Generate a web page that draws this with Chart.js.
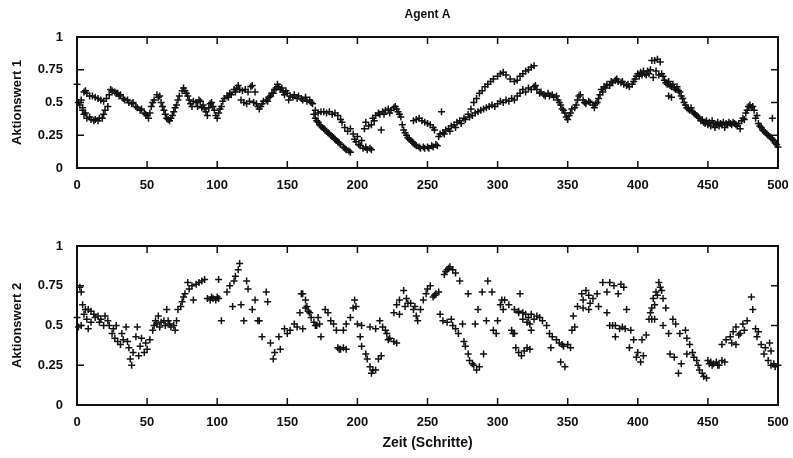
<!DOCTYPE html>
<html>
<head>
<meta charset="utf-8">
<script src="https://cdn.jsdelivr.net/npm/chart.js@4/dist/chart.umd.min.js"></script>
<style>
  html, body { margin: 0; padding: 0; background: #fff; }
  #wrap { position: relative; width: 793px; height: 458px; }
  canvas { position: absolute; left: 0; }
</style>
</head>
<body>
<div id="wrap">
  <canvas id="oben" width="793" height="200" style="top:0"></canvas>
  <canvas id="unten" width="793" height="258" style="top:200px"></canvas>
</div>
<script>
// Agent A - Aktionswerte über die Zeit
const titel = 'Agent A';
const xTitel = 'Zeit (Schritte)';
const yTitel1 = 'Aktionswert 1';
const yTitel2 = 'Aktionswert 2';
const xTicks = [0, 50, 100, 150, 200, 250, 300, 350, 400, 450, 500];
const yTicks = [0, 0.25, 0.5, 0.75, 1];

// [Schritt, Wert]
const wert1 = [
  [0,0.64],[1,0.5],[2,0.48],[3,0.52],[4,0.46],
  [5,0.58],[6,0.59],[7,0.57],[9,0.55],[11,0.55],[13,0.54],[15,0.53],[17,0.52],[19,0.51],[21,0.53],[23,0.56],[24,0.6],[25,0.59],[27,0.58],[29,0.57],
  [4,0.44],[5,0.41],[6,0.42],[7,0.38],[9,0.39],[10,0.37],[12,0.36],[13,0.37],[15,0.36],[16,0.38],[18,0.38],[19,0.41],[20,0.44],[22,0.47],
  [28,0.57],[30,0.55],[31,0.56],[33,0.53],[34,0.52],[36,0.52],[37,0.5],[39,0.49],[40,0.5],[42,0.47],[43,0.46],[45,0.44],[46,0.45],[48,0.42],[49,0.41],[50,0.4],[51,0.38],[52,0.42],
  [53,0.47],[54,0.5],[55,0.52],[57,0.56],[58,0.54],[59,0.55],[60,0.5],[61,0.47],
  [62,0.44],[63,0.41],[64,0.38],[65,0.37],[66,0.36],[67,0.38],[68,0.4],[69,0.43],[70,0.46],[71,0.48],
  [72,0.52],[73,0.55],[75,0.59],[76,0.61],[77,0.59],[78,0.57],[79,0.55],[80,0.52],
  [81,0.49],[82,0.47],[83,0.51],[85,0.5],[86,0.47],[87,0.52],[88,0.51],[89,0.46],[90,0.48],[91,0.45],[92,0.43],[93,0.4],[94,0.46],[95,0.49],[96,0.5],[97,0.47],[98,0.44],[99,0.4],[100,0.38],
  [101,0.42],[102,0.45],[103,0.47],[104,0.51],[105,0.53],[107,0.55],[108,0.54],[109,0.57],[110,0.56],[112,0.6],[113,0.58],[114,0.61],[115,0.63],[116,0.6],
  [118,0.59],[120,0.6],[122,0.58],[124,0.62],[125,0.63],[127,0.58],
  [117,0.52],[119,0.5],[121,0.49],[123,0.51],[126,0.5],[128,0.49],[129,0.47],[130,0.45],[131,0.47],
  [132,0.49],[133,0.51],[135,0.52],[136,0.51],[137,0.54],[138,0.55],[139,0.57],[140,0.57],[141,0.6],[142,0.61],[143,0.64],[144,0.62],[145,0.6],
  [146,0.61],[147,0.58],[148,0.56],[149,0.59],[150,0.57],[151,0.52],[152,0.55],[154,0.54],[155,0.56],[157,0.53],[158,0.55],[160,0.53],[161,0.52],[163,0.54],[164,0.51],[166,0.52],[167,0.5],[168,0.49],
  [169,0.41],[170,0.38],[171,0.36],[172,0.35],[173,0.33],[174,0.32],[175,0.31],[176,0.3],[177,0.29],[178,0.28],[179,0.27],[180,0.26],[181,0.25],[182,0.24],[183,0.23],[184,0.22],[185,0.21],[186,0.2],[187,0.19],[188,0.18],[190,0.16],[191,0.15],[192,0.14],[194,0.13],[195,0.12],
  [170,0.44],[172,0.42],[174,0.43],[176,0.43],[178,0.42],[180,0.43],[182,0.41],[184,0.42],[186,0.4],[188,0.37],[189,0.35],
  [191,0.31],[193,0.28],[195,0.3],[197,0.26],[198,0.22],[199,0.2],[200,0.24],[201,0.18],[202,0.17],[203,0.21],[204,0.15],[206,0.16],[207,0.14],[209,0.15],[210,0.14],
  [205,0.3],[206,0.35],[208,0.32],[210,0.33],[211,0.38],[212,0.36],[213,0.4],[215,0.42],[216,0.41],[217,0.29],[218,0.43],[219,0.41],[220,0.44],[222,0.45],[223,0.42],[224,0.44],[226,0.46],[227,0.47],[228,0.45],[229,0.43],[230,0.41],[231,0.39],
  [232,0.33],[233,0.29],[234,0.27],[235,0.25],[236,0.23],[237,0.22],[238,0.21],[239,0.2],[240,0.19],[241,0.18],[242,0.17],[244,0.16],[245,0.15],[247,0.16],[248,0.15],[250,0.16],[251,0.15],[253,0.17],[254,0.16],[256,0.18],[257,0.17],
  [240,0.36],[242,0.37],[244,0.38],[246,0.36],[248,0.35],[250,0.34],[252,0.33],[254,0.31],[255,0.29],[260,0.43],
  [258,0.24],[259,0.26],[261,0.27],[262,0.26],[263,0.29],[265,0.3],[266,0.28],[267,0.32],[269,0.33],[270,0.31],[271,0.35],[273,0.36],[274,0.34],[276,0.38],[277,0.37],[279,0.41],[280,0.39],
  [281,0.45],[283,0.5],[285,0.53],[287,0.57],[289,0.59],[291,0.62],[293,0.64],[295,0.66],[297,0.68],[300,0.7],[302,0.72],[304,0.73],[306,0.71],[309,0.68],[312,0.66],[314,0.67],[316,0.7],[318,0.72],[320,0.74],[322,0.75],[324,0.77],[326,0.78],
  [282,0.4],[284,0.42],[286,0.43],[288,0.44],[290,0.45],[292,0.46],[294,0.47],[296,0.48],[298,0.47],[300,0.49],[302,0.51],[304,0.5],[306,0.52],[308,0.51],[310,0.53],[312,0.52],[314,0.55],[316,0.57],[318,0.6],[320,0.58],[322,0.61],[324,0.6],[326,0.62],
  [327,0.63],[328,0.6],[330,0.57],[331,0.58],[333,0.56],[334,0.55],[336,0.57],[337,0.55],[339,0.56],[340,0.54],[342,0.55],[343,0.52],[344,0.5],[345,0.48],[346,0.45],[347,0.44],[348,0.42],[349,0.39],[350,0.37],[351,0.4],
  [352,0.42],[353,0.45],[355,0.46],[356,0.48],[357,0.52],[358,0.55],[359,0.56],[361,0.52],[362,0.5],[363,0.49],[365,0.51],[366,0.5],[368,0.48],[369,0.46],[370,0.49],[371,0.5],[372,0.53],[373,0.56],
  [374,0.6],[375,0.58],[376,0.62],[377,0.61],[378,0.64],[380,0.63],[381,0.66],[382,0.65],[384,0.67],[385,0.68],[386,0.66],[388,0.65],[389,0.66],[390,0.64],[392,0.63],[393,0.64],[394,0.62],[396,0.64],[397,0.66],[398,0.68],[399,0.7],
  [400,0.72],[401,0.7],[402,0.73],[403,0.71],[404,0.74],[405,0.72],[406,0.71],[407,0.74],[408,0.72],[409,0.75],[410,0.82],[411,0.69],[412,0.82],[413,0.74],[414,0.83],[415,0.71],[416,0.81],[417,0.72],[418,0.7],
  [419,0.67],[420,0.65],[421,0.64],[422,0.66],[423,0.63],[424,0.62],[425,0.64],[426,0.61],[427,0.6],[428,0.62],[429,0.59],[430,0.58],[422,0.55],[424,0.54],
  [431,0.55],[432,0.53],[433,0.5],[434,0.48],[435,0.46],[436,0.45],[437,0.44],[438,0.46],[439,0.43],[440,0.42],[441,0.41],[442,0.4],[443,0.39],[444,0.38],
  [445,0.36],[446,0.37],[447,0.35],[448,0.34],[449,0.36],[450,0.33],[451,0.35],[452,0.32],[453,0.36],[454,0.34],[455,0.31],[456,0.33],[457,0.35],[458,0.32],[459,0.34],
  [460,0.33],[461,0.35],[462,0.31],[463,0.34],[464,0.33],[465,0.35],[466,0.34],[467,0.33],[468,0.35],[469,0.34],[470,0.33],[471,0.32],[472,0.34],[473,0.3],
  [474,0.36],[475,0.38],[476,0.37],[477,0.42],[478,0.44],[479,0.47],[480,0.48],[481,0.46],[482,0.47],[483,0.44],[484,0.38],[485,0.4],
  [486,0.34],[487,0.32],[488,0.31],[489,0.29],[490,0.28],[491,0.27],[492,0.26],[493,0.25],[494,0.24],[495,0.23],[496,0.22],[497,0.21],[498,0.19],[499,0.18],[500,0.16],[496,0.38]
];

const wert2 = [
  [2,0.74],[3,0.71],[0,0.55],[1,0.49],[3,0.5],[4,0.63],[5,0.57],[6,0.6],[7,0.54],[8,0.6],[8,0.48],[10,0.59],[10,0.52],[12,0.57],[13,0.55],[15,0.56],[16,0.52],[17,0.54],[19,0.5],[20,0.56],[22,0.53],[23,0.5],
  [25,0.45],[26,0.48],[27,0.42],[28,0.5],[29,0.4],[31,0.38],[32,0.45],[33,0.41],[35,0.49],[36,0.4],[37,0.36],[38,0.29],[39,0.25],[40,0.33],[42,0.43],[43,0.49],[44,0.31],[45,0.37],[46,0.42],[48,0.33],[49,0.39],[50,0.35],[52,0.41],
  [54,0.47],[55,0.5],[56,0.53],[57,0.51],[58,0.56],[59,0.49],[60,0.52],[62,0.53],[63,0.5],[64,0.6],[65,0.53],[66,0.51],[67,0.49],[69,0.5],[70,0.47],[71,0.53],
  [72,0.6],[74,0.62],[75,0.65],[76,0.68],[77,0.7],[79,0.77],[80,0.73],[82,0.75],[83,0.66],[85,0.76],[87,0.77],[89,0.78],[91,0.79],
  [93,0.67],[95,0.66],[96,0.68],[97,0.67],[99,0.66],[100,0.68],[101,0.67],[101,0.79],[103,0.53],
  [107,0.71],[109,0.75],[111,0.62],[112,0.78],[113,0.81],[115,0.85],[116,0.89],[117,0.63],[119,0.53],
  [121,0.78],[122,0.73],[125,0.6],[127,0.66],[129,0.53],[130,0.53],[132,0.43],[135,0.71],[136,0.65],
  [138,0.39],[140,0.29],[141,0.33],[144,0.43],[145,0.35],[148,0.48],[150,0.45],[152,0.47],[155,0.51],[157,0.49],
  [159,0.58],[161,0.7],[160,0.7],[163,0.66],[163,0.61],[164,0.62],[161,0.48],[165,0.59],[166,0.58],[167,0.55],[169,0.52],[170,0.5],[171,0.5],[172,0.55],[173,0.51],[174,0.43],
  [177,0.6],[179,0.58],[181,0.53],[183,0.51],[185,0.47],[190,0.47],[192,0.51],
  [186,0.36],[187,0.35],[188,0.35],[190,0.36],[192,0.35],
  [195,0.55],[197,0.61],[198,0.66],[199,0.62],[200,0.51],[203,0.5],
  [202,0.43],[203,0.37],[206,0.32],[207,0.29],[209,0.24],[210,0.2],[211,0.22],[213,0.22],[215,0.29],[217,0.31],[209,0.49],[213,0.48],
  [216,0.53],[218,0.49],[220,0.47],[221,0.45],[222,0.41],[223,0.42],[226,0.4],[228,0.39],
  [226,0.58],[228,0.63],[230,0.66],[230,0.57],[233,0.72],[234,0.62],[235,0.67],[236,0.64],[238,0.64],[240,0.6],[241,0.62],[242,0.56],[243,0.53],
  [245,0.6],[247,0.66],[249,0.7],[250,0.73],[252,0.75],[254,0.68],[255,0.69],[256,0.7],[258,0.71],
  [262,0.82],[263,0.84],[264,0.85],[265,0.86],[266,0.87],[268,0.85],[270,0.83],[273,0.78],[279,0.7],
  [259,0.57],[261,0.53],[264,0.52],[267,0.54],[268,0.5],[270,0.48],[272,0.45],[275,0.51],[276,0.4],[277,0.37],[279,0.32],[280,0.28],[282,0.26],[283,0.25],[285,0.22],[287,0.24],[290,0.32],
  [284,0.51],[286,0.6],[289,0.71],[292,0.53],[293,0.78],[296,0.71],[297,0.47],[299,0.45],[300,0.53],
  [302,0.63],[303,0.66],[304,0.6],[305,0.66],[308,0.63],[310,0.47],[311,0.45],[312,0.45],[315,0.58],[316,0.7],
  [312,0.6],[315,0.59],[318,0.58],[320,0.57],[322,0.55],[324,0.57],[326,0.54],[328,0.56],[330,0.55],[332,0.53],[318,0.54],[321,0.52],[323,0.51],[324,0.47],
  [313,0.36],[315,0.33],[317,0.31],[319,0.34],[321,0.36],[323,0.35],
  [335,0.5],[337,0.45],[338,0.36],[339,0.43],[342,0.41],[344,0.39],[345,0.27],[346,0.38],[347,0.37],[348,0.24],[350,0.38],[352,0.36],
  [353,0.47],[354,0.56],[355,0.49],[357,0.62],[360,0.7],[361,0.66],[361,0.61],[363,0.72],[365,0.69],[365,0.6],[366,0.64],[368,0.67],[371,0.7],[372,0.62],
  [375,0.77],[378,0.71],[380,0.77],[383,0.75],[386,0.7],[388,0.76],[390,0.74],
  [378,0.58],[380,0.5],[382,0.5],[384,0.43],[384,0.5],[387,0.48],[389,0.49],[391,0.48],[392,0.6],[395,0.47],
  [394,0.36],[397,0.41],[399,0.3],[400,0.33],[402,0.27],[403,0.41],[404,0.31],[406,0.44],
  [408,0.54],[409,0.58],[410,0.61],[411,0.67],[412,0.63],[413,0.71],[414,0.69],[415,0.77],[416,0.74],[417,0.72],[418,0.67],[420,0.61],[410,0.54],[412,0.54],
  [418,0.5],[422,0.45],[425,0.54],[427,0.51],[430,0.45],[423,0.32],[426,0.3],[431,0.26],[429,0.2],
  [434,0.47],[435,0.42],[435,0.32],[437,0.38],[439,0.33],[440,0.3],[442,0.28],[443,0.25],[444,0.22],[446,0.2],[447,0.18],[449,0.17],
  [450,0.28],[451,0.26],[452,0.27],[453,0.25],[454,0.26],[456,0.27],[457,0.25],[458,0.25],[460,0.28],[462,0.27],
  [460,0.38],[463,0.41],[466,0.43],[467,0.39],[468,0.46],[470,0.49],[470,0.38],[472,0.44],[473,0.45],[475,0.51],[476,0.47],[478,0.53],
  [481,0.68],[482,0.6],[484,0.48],[485,0.43],[486,0.46],[488,0.38],[490,0.32],[491,0.36],[493,0.28],[494,0.39],[495,0.25],[495,0.34],[497,0.26],[498,0.24],[500,0.25]
];

const schrift = "'Liberation Sans', Arial, sans-serif";

// Rahmen mit Innenstrichen wie bei gnuplot
const rahmen = {
  id: 'rahmen',
  afterDraw(chart) {
    const { ctx, chartArea: a, scales: { x, y } } = chart;
    ctx.save();
    ctx.strokeStyle = '#111';
    ctx.lineWidth = 2;
    ctx.strokeRect(a.left, a.top, a.right - a.left, a.bottom - a.top);
    ctx.lineWidth = 1.5;
    ctx.beginPath();
    x.ticks.forEach(t => {
      const px = x.getPixelForValue(t.value);
      ctx.moveTo(px, a.bottom); ctx.lineTo(px, a.bottom - 7);
      ctx.moveTo(px, a.top); ctx.lineTo(px, a.top + 7);
    });
    y.ticks.forEach(t => {
      const py = y.getPixelForValue(t.value);
      ctx.moveTo(a.left, py); ctx.lineTo(a.left + 7, py);
      ctx.moveTo(a.right, py); ctx.lineTo(a.right - 7, py);
    });
    ctx.stroke();
    if (chart.options.plugins.rahmen && chart.options.plugins.rahmen.titel) {
      ctx.fillStyle = '#111';
      ctx.font = 'bold 12px ' + schrift;
      ctx.textAlign = 'center';
      ctx.textBaseline = 'middle';
      ctx.fillText(chart.options.plugins.rahmen.titel, (a.left + a.right) / 2, 15);
    }
    ctx.restore();
  }
};

function optionen(yText, oben, xHoehe, mitXTitel, plotTitel) {
  return {
    responsive: false,
    animation: false,
    layout: { padding: { top: oben, right: 15, left: 0, bottom: 0 } },
    plugins: {
      legend: { display: false },
      tooltip: { enabled: false },
      rahmen: { titel: plotTitel }
    },
    scales: {
      x: {
        type: 'linear', min: 0, max: 500,
        afterFit(s) { s.height = xHoehe; s.paddingLeft = 0; s.paddingRight = 0; },
        afterBuildTicks(s) { s.ticks = xTicks.map(v => ({ value: v })); },
        grid: { display: false, drawTicks: false },
        border: { display: false },
        ticks: {
          padding: 10, color: '#111', maxRotation: 0,
          font: { family: schrift, size: 13, weight: 'bold' },
          callback: v => String(v)
        },
        title: {
          display: mitXTitel, text: xTitel, color: '#111',
          font: { family: schrift, size: 14, weight: 'bold' },
          padding: { top: 0, bottom: 6 }
        }
      },
      y: {
        type: 'linear', min: 0, max: 1,
        afterFit(s) { s.width = 77; s.paddingTop = 0; s.paddingBottom = 0; },
        afterBuildTicks(s) { s.ticks = yTicks.map(v => ({ value: v })); },
        grid: { display: false, drawTicks: false },
        border: { display: false },
        ticks: {
          padding: 14, color: '#111',
          font: { family: schrift, size: 13, weight: 'bold' },
          callback: v => String(v)
        },
        title: {
          display: true, text: yText, color: '#111',
          font: { family: schrift, size: 13, weight: 'bold' },
          padding: { top: 10, bottom: 0 }
        }
      }
    }
  };
}

function datensatz(punkte) {
  return {
    data: punkte.map(([x, y]) => ({ x, y })),
    pointStyle: 'cross',
    pointRadius: 3.5,
    pointBorderWidth: 1.5,
    borderColor: '#111',
    backgroundColor: '#111',
    showLine: false,
    clip: false
  };
}

new Chart(document.getElementById('oben'), {
  type: 'scatter',
  data: { datasets: [datensatz(wert1)] },
  options: optionen(yTitel1, 37, 32, false, titel),
  plugins: [rahmen]
});

new Chart(document.getElementById('unten'), {
  type: 'scatter',
  data: { datasets: [datensatz(wert2)] },
  options: optionen(yTitel2, 46, 53, true, null),
  plugins: [rahmen]
});
</script>
</body>
</html>
